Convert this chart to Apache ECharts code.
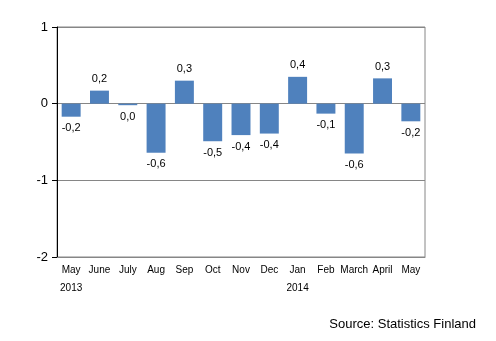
<!DOCTYPE html>
<html><head><meta charset="utf-8">
<script src="https://cdn.jsdelivr.net/npm/echarts@6/dist/echarts.min.js"></script>
<style>html,body{margin:0;padding:0;background:#fff}#c{width:496px;height:341px}</style>
</head><body><div id="c"></div>
<script>
var categories = ['May','June','July','Aug','Sep','Oct','Nov','Dec','Jan','Feb','March','April','May'];
var years = ['2013','','','','','','','','2014','','','',''];
var values = [-0.17, 0.17, -0.02, -0.64, 0.30, -0.49, -0.41, -0.39, 0.35, -0.13, -0.65, 0.33, -0.23];
var valueLabels = ['-0,2','0,2','0,0','-0,6','0,3','-0,5','-0,4','-0,4','0,4','-0,1','-0,6','0,3','-0,2'];
var yTicks = [-2, -1, 0, 1];

var font = 'Liberation Sans, Arial, sans-serif';
var chart = echarts.init(document.getElementById('c'));
chart.setOption({
  animation: false,
  grid: {left: 57, right: 71, top: 27, bottom: 84, show: true, borderColor: '#868686', borderWidth: 1},
  xAxis: [{
    type: 'category', data: categories, position: 'bottom',
    axisLine: {onZero: false, lineStyle: {color: '#868686'}},
    axisTick: {show: false},
    axisLabel: {color: '#000', fontFamily: font, fontSize: 10, margin: 8, interval: 0}
  }, {
    type: 'category', data: years, position: 'bottom', offset: 18,
    axisLine: {show: false}, axisTick: {show: false},
    axisLabel: {color: '#000', fontFamily: font, fontSize: 10, margin: 8, interval: 0}
  }],
  yAxis: {
    type: 'value', min: yTicks[0], max: yTicks[yTicks.length-1], interval: 1,
    axisLine: {show: true, lineStyle: {color: '#000', width: 1}},
    axisTick: {show: true, length: 5, lineStyle: {color: '#000'}},
    axisLabel: {color: '#000', fontFamily: font, fontSize: 13, margin: 9},
    splitLine: {lineStyle: {color: '#868686', width: 1}}
  },
  series: [{
    type: 'bar', data: values, barCategoryGap: '33%',
    itemStyle: {color: '#4F81BD'},
    label: {
      show: true, fontFamily: font, fontSize: 11, color: '#000', distance: 6,
      position: 'top',
      formatter: function(p){ return valueLabels[p.dataIndex]; }
    },
    labelLayout: function(p){ return {}; }
  }],
  graphic: [{
    type: 'text', right: 20, top: 318,
    style: {text: 'Source: Statistics Finland', font: '13px ' + font, fill: '#000'}
  }]
});
// negative bars: labels below
var opt = chart.getOption();
var data = values.map(function(v, i){
  return {value: v, label: {position: v < 0 ? 'bottom' : 'top'}};
});
chart.setOption({series: [{data: data}]});
</script></body></html>
